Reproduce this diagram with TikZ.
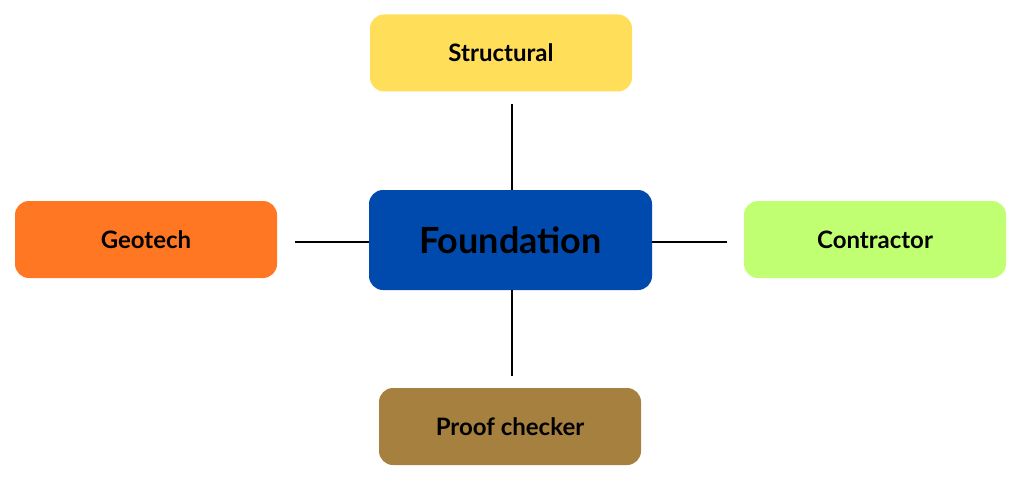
\documentclass[tikz,border=0pt]{standalone}
\usepackage{fontspec}
\setmainfont{Lato}
\definecolor{cstr}{HTML}{FFDE59}
\definecolor{cfou}{HTML}{004AAD}
\definecolor{cgeo}{HTML}{FF7722}
\definecolor{ccon}{HTML}{C1FF72}
\definecolor{cpro}{HTML}{A6803E}
\begin{document}
\begin{tikzpicture}[x=1pt,y=-1pt,
  box/.style={rounded corners=14pt,minimum width=262pt,minimum height=77pt,inner sep=0pt,font=\bfseries\fontsize{24}{28}\selectfont,text=black},
  conn/.style={line width=2.5pt,black}]
\useasboundingbox (0,0) rectangle (1024,476);
\node[box,fill=cstr] (str) at (501,53) {Structural};
\node[box,fill=cfou,minimum width=283pt,minimum height=100pt,font=\bfseries\fontsize{36}{40}\selectfont] (fou) at (510.5,240) {Foundation};
\node[box,fill=cgeo] (geo) at (146,239.5) {Geotech};
\node[box,fill=ccon] (con) at (875,239.5) {Contractor};
\node[box,fill=cpro] (pro) at (510,426.5) {Proof checker};
\draw[conn,shorten >=12pt] ([xshift=1.5pt]fou.north) -- ([xshift=1.5pt]fou.north |- str.south);
\draw[conn,shorten >=12pt] ([xshift=1.5pt]fou.south) -- ([xshift=1.5pt]fou.south |- pro.north);
\draw[conn,shorten >=18pt] ([yshift=-2pt]fou.west) -- ([yshift=-2pt]fou.west -| geo.east);
\draw[conn,shorten >=17pt] ([yshift=-2pt]fou.east) -- ([yshift=-2pt]fou.east -| con.west);
\end{tikzpicture}
\end{document}
